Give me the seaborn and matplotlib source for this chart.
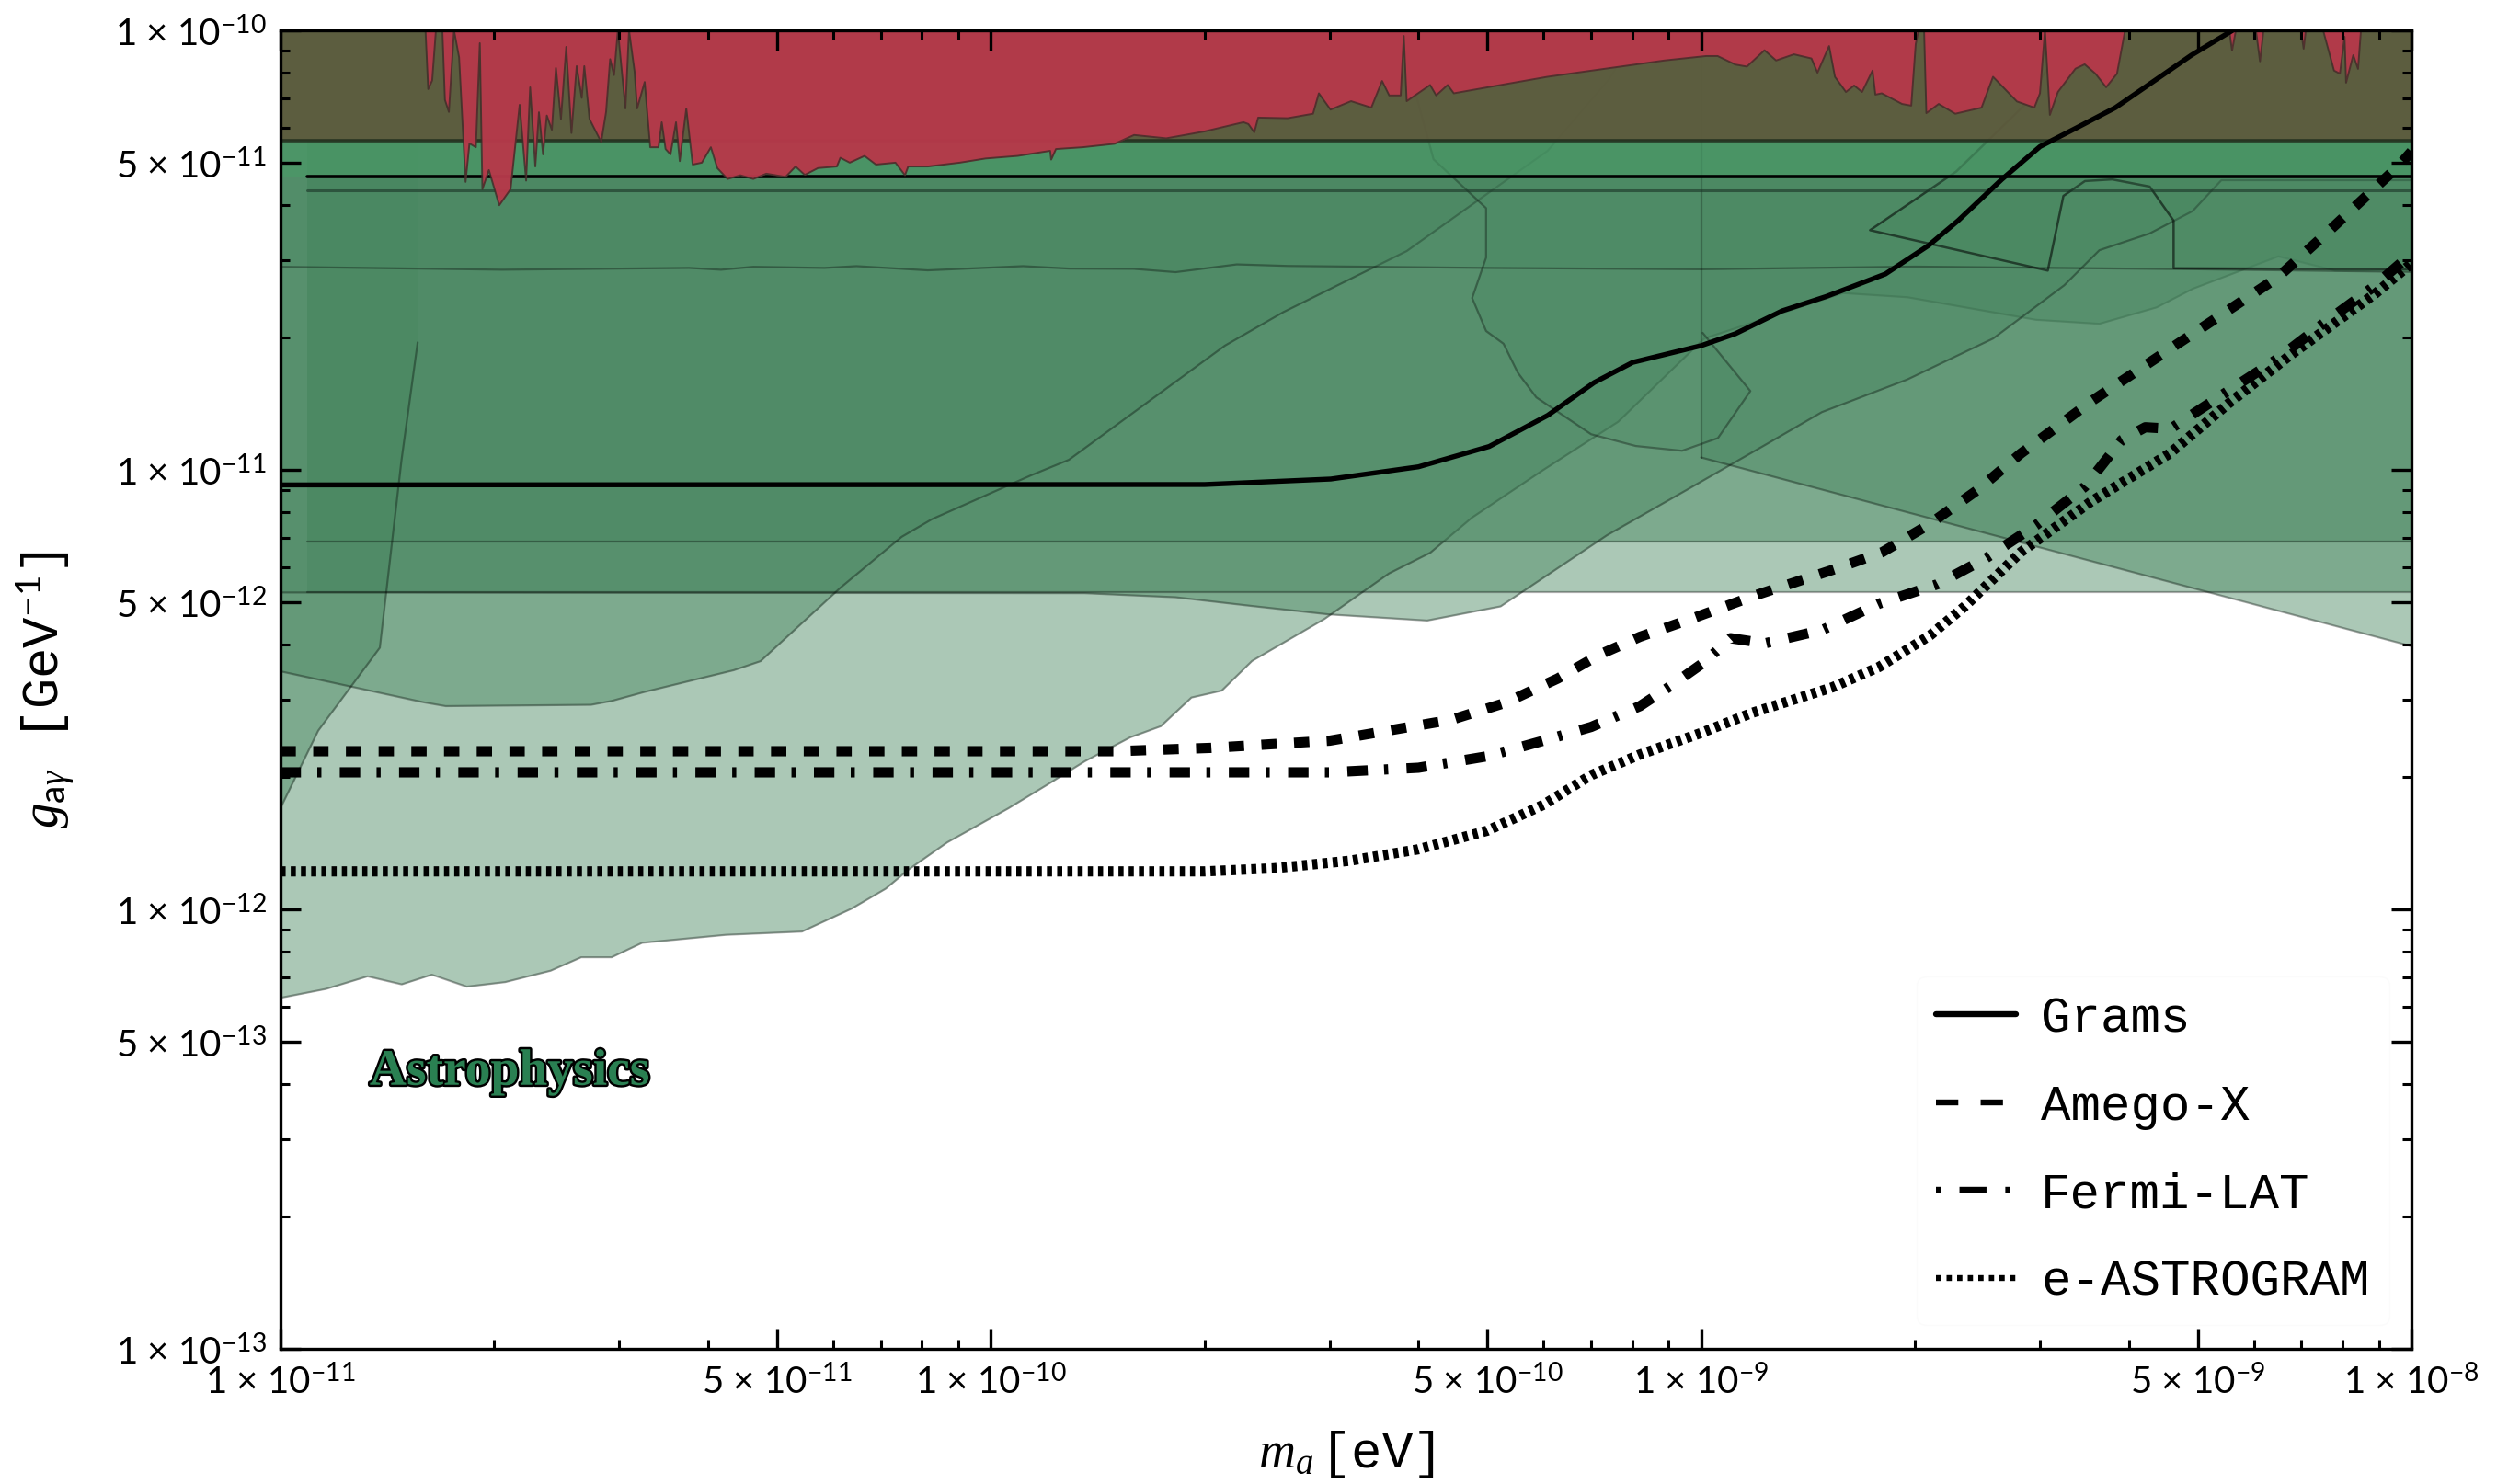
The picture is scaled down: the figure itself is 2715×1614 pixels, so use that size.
import numpy as np
import pandas as pd
import seaborn as sns
import matplotlib
matplotlib.use("Agg")
import matplotlib.pyplot as plt
from matplotlib.lines import Line2D
import matplotlib.patheffects as pe
from matplotlib.ticker import FixedLocator, FixedFormatter, NullFormatter

# ---------------- data ----------------
series_labels = ["Grams", "Amego-X", "Fermi-LAT", "e-ASTROGRAM"]

grams_m = [1.0e-11, 2.0e-10, 3.01e-10, 4.0e-10, 5.03e-10, 6.08e-10, 7.07e-10, 8.01e-10, 1.0e-9, 1.117e-9,
           1.30e-9, 1.50e-9, 1.817e-9, 2.09e-9, 2.30e-9, 2.65e-9, 3.0e-9, 3.37e-9, 3.83e-9, 4.9e-9, 5.6e-9]
grams_g = [9.24e-12, 9.26e-12, 9.53e-12, 1.016e-11, 1.13e-11, 1.33e-11, 1.58e-11, 1.756e-11, 1.917e-11, 2.04e-11,
           2.30e-11, 2.48e-11, 2.79e-11, 3.24e-11, 3.69e-11, 4.58e-11, 5.44e-11, 5.99e-11, 6.67e-11, 8.78e-11, 1.0e-10]

amego_m = [1e-11, 1.5e-10, 2.04e-10, 3.0e-10, 4.45e-10, 5.3e-10, 6.28e-10, 7.2e-10, 8.2e-10, 9.5e-10, 1.2e-9,
           1.55e-9, 1.8e-9, 2.09e-9, 2.45e-9, 2.82e-9, 3.56e-9, 4.81e-9, 6.48e-9, 7.63e-9, 9.6e-9, 1e-8]
amego_g = [2.29e-12, 2.29e-12, 2.33e-12, 2.42e-12, 2.70e-12, 2.95e-12, 3.35e-12, 3.8e-12, 4.17e-12, 4.53e-12, 5.2e-12,
           5.96e-12, 6.5e-12, 7.5e-12, 9.0e-12, 1.09e-11, 1.44e-11, 1.99e-11, 2.74e-11, 3.48e-11, 4.92e-11, 5.3e-11]

fermi_m = [1e-11, 3.0e-10, 4.0e-10, 5.0e-10, 6.0e-10, 7.0e-10, 8.2e-10, 9.1e-10, 1.01e-9, 1.10e-9, 1.23e-9,
           1.48e-9, 1.78e-9, 2.15e-9, 2.52e-9, 2.96e-9, 3.47e-9, 3.91e-9, 4.22e-9, 4.58e-9, 5.41e-9, 6.48e-9,
           7.45e-9, 8.79e-9, 1e-8]
fermi_g = [2.05e-12, 2.05e-12, 2.1e-12, 2.23e-12, 2.42e-12, 2.6e-12, 2.9e-12, 3.24e-12, 3.65e-12, 4.14e-12, 4.03e-12,
           4.32e-12, 4.96e-12, 5.49e-12, 6.30e-12, 7.48e-12, 9.16e-12, 1.17e-11, 1.25e-11, 1.24e-11, 1.48e-11,
           1.79e-11, 2.13e-11, 2.59e-11, 3.1e-11]

astro_m = [1e-11, 2.0e-10, 2.5e-10, 3.2e-10, 4.0e-10, 5.0e-10, 6.0e-10, 7.0e-10, 8.2e-10, 1.0e-9, 1.18e-9,
           1.53e-9, 1.78e-9, 2.1e-9, 2.35e-9, 2.82e-9, 3.54e-9, 4.57e-9, 5.51e-9, 6.74e-9, 8.9e-9, 1e-8]
astro_g = [1.22e-12, 1.22e-12, 1.24e-12, 1.29e-12, 1.37e-12, 1.51e-12, 1.73e-12, 2.02e-12, 2.25e-12, 2.52e-12, 2.8e-12,
           3.2e-12, 3.56e-12, 4.2e-12, 4.89e-12, 6.5e-12, 8.47e-12, 1.09e-11, 1.41e-11, 1.82e-11, 2.52e-11, 2.95e-11]

# excluded regions (lower boundaries; each region extends up to the top of the plot)
light_m = [1.0e-11, 1.159e-11, 1.326e-11, 1.481e-11, 1.633e-11, 1.829e-11, 2.071e-11, 2.40e-11, 2.65e-11,
           2.925e-11, 3.228e-11, 4.235e-11, 5.42e-11, 6.37e-11, 7.11e-11, 7.66e-11, 8.68e-11, 1.058e-10,
           1.198e-10, 1.356e-10, 1.571e-10, 1.735e-10, 1.916e-10, 2.114e-10, 2.332e-10, 2.95e-10, 3.635e-10,
           4.158e-10, 4.755e-10, 5.97e-10, 7.64e-10, 1.01e-9, 1.584e-9, 1.952e-9, 2.958e-9, 3.636e-9, 4.377e-9,
           4.922e-9, 6.496e-9, 7.805e-9, 1.0e-8]
light_g = [6.29e-13, 6.59e-13, 7.04e-13, 6.75e-13, 7.10e-13, 6.67e-13, 6.83e-13, 7.25e-13, 7.78e-13,
           7.78e-13, 8.39e-13, 8.75e-13, 8.90e-13, 1.004e-12, 1.114e-12, 1.232e-12, 1.42e-12, 1.697e-12,
           1.917e-12, 2.172e-12, 2.462e-12, 2.61e-12, 3.033e-12, 3.145e-12, 3.674e-12, 4.58e-12, 5.81e-12,
           6.48e-12, 7.78e-12, 9.95e-12, 1.286e-11, 1.99e-11, 2.525e-11, 2.47e-11, 2.195e-11, 2.149e-11, 2.342e-11,
           2.582e-11, 3.06e-11, 2.84e-11, 2.84e-11]

mid_m = [1.0e-11, 1.588e-11, 1.708e-11, 2.736e-11, 2.927e-11, 3.245e-11, 4.345e-11, 4.74e-11, 6.14e-11,
         7.49e-11, 8.26e-11, 1.138e-10, 1.288e-10, 2.136e-10, 2.58e-10, 3.85e-10, 6.08e-10, 7.41e-10, 8.22e-10]
mid_g = [3.48e-12, 2.96e-12, 2.90e-12, 2.92e-12, 2.98e-12, 3.12e-12, 3.50e-12, 3.67e-12, 5.39e-12,
         7.04e-12, 7.72e-12, 9.71e-12, 1.054e-11, 1.917e-11, 2.284e-11, 3.146e-11, 5.32e-11, 7.72e-11, 1.0e-10]

steep_m = [1.0e-11, 1.13e-11, 1.38e-11, 1.48e-11, 1.56e-11]
steep_g = [1.70e-12, 2.55e-12, 3.94e-12, 1.05e-11, 1.95e-11]

rise_m = [1.0e-11, 1.356e-10, 1.82e-10, 2.332e-10, 2.987e-10, 4.114e-10, 5.22e-10, 7.37e-10, 9.53e-10,
          1.229e-9, 1.479e-9, 1.952e-9, 2.577e-9, 3.245e-9, 3.636e-9, 4.28e-9, 4.92e-9, 5.40e-9, 1e-8]
rise_g = [5.26e-12, 5.24e-12, 5.13e-12, 4.90e-12, 4.69e-12, 4.54e-12, 4.89e-12, 7.10e-12, 8.99e-12,
          1.138e-11, 1.353e-11, 1.606e-11, 1.99e-11, 2.63e-11, 3.16e-11, 3.45e-11, 3.88e-11, 4.56e-11, 4.56e-11]

flat_m = [1.09e-11, 1e-8]
flat1_g = [5.27e-12, 5.27e-12]
flat2_g = [6.88e-12, 6.88e-12]
flat3_g = [4.33e-11, 4.33e-11]
flat4_g = [4.65e-11, 4.65e-11]
band_m = [1e-11, 1e-8]
band_g = [5.62e-11, 5.62e-11]

wavy_m = [1.0e-11, 1.56e-11, 2.05e-11, 3.76e-11, 4.17e-11, 4.63e-11, 5.83e-11, 6.47e-11, 8.15e-11, 1.11e-10,
          1.29e-10, 1.59e-10, 1.82e-10, 2.22e-10, 2.62e-10, 5e-10, 1e-9, 2e-9, 5e-9, 1e-8]
wavy_g = [2.897e-11, 2.87e-11, 2.853e-11, 2.88e-11, 2.853e-11, 2.897e-11, 2.88e-11, 2.907e-11, 2.844e-11,
          2.907e-11, 2.87e-11, 2.866e-11, 2.817e-11, 2.934e-11, 2.91e-11, 2.88e-11, 2.86e-11, 2.9e-11, 2.86e-11, 2.82e-11]

blob_m = [3.77e-10, 3.99e-10, 4.20e-10, 4.98e-10, 4.98e-10, 4.76e-10, 4.98e-10, 5.27e-10, 5.52e-10, 5.86e-10,
          7.00e-10, 8.09e-10, 9.40e-10, 1.056e-9, 1.173e-9, 1.005e-9, 1.005e-9]
blob_g = [1.0e-10, 6.90e-11, 5.09e-11, 3.94e-11, 3.04e-11, 2.46e-11, 2.07e-11, 1.936e-11, 1.663e-11, 1.462e-11,
          1.205e-11, 1.133e-11, 1.105e-11, 1.181e-11, 1.511e-11, 2.05e-11, 1.0e-10]

diag_m = [1.0e-9, 1.0e-9, 1.0e-8]
diag_g = [1.0e-10, 1.067e-11, 3.97e-12]

vee_m = [3.312e-9, 2.866e-9, 2.285e-9, 1.729e-9, 3.076e-9, 3.236e-9, 3.47e-9, 3.79e-9, 4.28e-9, 4.625e-9,
         4.625e-9, 1e-8, 1e-8]
vee_g = [1e-10, 6.81e-11, 4.77e-11, 3.51e-11, 2.84e-11, 4.20e-11, 4.54e-11, 4.58e-11, 4.41e-11, 3.69e-11,
         2.875e-11, 2.86e-11, 1e-10]

red_m = [1.60e-11, 1.614e-11, 1.635e-11, 1.655e-11, 1.69e-11, 1.704e-11, 1.726e-11, 1.755e-11, 1.784e-11, 1.822e-11,
         1.845e-11, 1.884e-11, 1.908e-11, 1.924e-11, 1.965e-11, 2.032e-11, 2.108e-11, 2.171e-11, 2.217e-11, 2.246e-11,
         2.284e-11, 2.311e-11, 2.342e-11, 2.371e-11, 2.41e-11, 2.442e-11, 2.482e-11, 2.525e-11, 2.568e-11, 2.612e-11,
         2.655e-11, 2.677e-11, 2.723e-11, 2.828e-11, 2.873e-11, 2.911e-11, 2.948e-11, 2.985e-11, 3.059e-11, 3.095e-11,
         3.151e-11, 3.177e-11, 3.256e-11, 3.315e-11, 3.405e-11, 3.441e-11, 3.484e-11, 3.540e-11, 3.604e-11, 3.648e-11,
         3.726e-11, 3.804e-11, 3.919e-11, 4.035e-11, 4.12e-11, 4.26e-11, 4.44e-11, 4.63e-11, 4.83e-11, 5.14e-11,
         5.31e-11, 5.47e-11, 5.71e-11, 6.07e-11, 6.14e-11, 6.33e-11, 6.64e-11, 6.89e-11, 7.34e-11, 7.57e-11,
         7.65e-11, 8.15e-11, 9.04e-11, 9.83e-11, 1.091e-10, 1.212e-10, 1.216e-10, 1.235e-10, 1.346e-10, 1.494e-10,
         1.591e-10, 1.766e-10, 2.001e-10, 2.268e-10, 2.305e-10, 2.349e-10, 2.379e-10, 2.617e-10, 2.842e-10, 2.896e-10,
         3.008e-10, 3.215e-10, 3.433e-10, 3.555e-10, 3.638e-10, 3.776e-10, 3.814e-10, 3.850e-10, 4.154e-10, 4.236e-10,
         4.397e-10, 4.485e-10, 5.028e-10, 6.077e-10, 7.34e-10, 8.88e-10, 1.016e-9, 1.055e-9, 1.117e-9, 1.160e-9,
         1.228e-9, 1.275e-9, 1.351e-9, 1.430e-9, 1.458e-9, 1.514e-9, 1.543e-9, 1.599e-9, 1.642e-9, 1.685e-9,
         1.743e-9, 1.759e-9, 1.796e-9, 1.918e-9, 1.976e-9, 2.005e-9, 2.023e-9, 2.06e-9, 2.075e-9, 2.160e-9,
         2.279e-9, 2.482e-9, 2.576e-9, 2.678e-9, 2.783e-9, 2.945e-9, 2.999e-9, 3.048e-9, 3.097e-9, 3.179e-9,
         3.365e-9, 3.467e-9, 3.590e-9, 3.717e-9, 3.850e-9, 3.952e-9, 5.54e-9, 5.59e-9, 5.66e-9, 6.04e-9,
         6.12e-9, 6.19e-9, 6.99e-9, 7.05e-9, 7.10e-9, 7.51e-9, 7.78e-9, 7.93e-9, 8.05e-9, 8.09e-9,
         8.28e-9, 8.41e-9, 8.49e-9]
red_g = [1e-10, 7.35e-11, 7.69e-11, 1e-10, 1e-10, 6.95e-11, 6.52e-11, 1e-10, 8.68e-11, 4.52e-11,
         5.53e-11, 5.42e-11, 9.35e-11, 4.35e-11, 4.81e-11, 4.00e-11, 4.35e-11, 6.77e-11, 4.55e-11, 7.42e-11,
         4.90e-11, 6.51e-11, 5.22e-11, 6.40e-11, 5.94e-11, 8.21e-11, 6.28e-11, 9.17e-11, 5.84e-11, 8.29e-11,
         7.02e-11, 8.29e-11, 6.28e-11, 5.57e-11, 6.52e-11, 8.60e-11, 7.91e-11, 1e-10, 6.64e-11, 1e-10,
         8.06e-11, 6.64e-11, 7.63e-11, 5.42e-11, 5.42e-11, 6.18e-11, 5.37e-11, 5.22e-11, 6.18e-11, 5.04e-11,
         6.64e-11, 4.95e-11, 5.00e-11, 5.42e-11, 4.86e-11, 4.59e-11, 4.68e-11, 4.59e-11, 4.72e-11, 4.64e-11,
         4.90e-11, 4.69e-11, 4.86e-11, 4.90e-11, 5.13e-11, 5.00e-11, 5.18e-11, 4.95e-11, 5.00e-11, 4.68e-11,
         4.90e-11, 4.90e-11, 5.00e-11, 5.11e-11, 5.18e-11, 5.32e-11, 5.08e-11, 5.37e-11, 5.42e-11, 5.52e-11,
         5.78e-11, 5.68e-11, 5.89e-11, 6.18e-11, 6.12e-11, 5.86e-11, 6.33e-11, 6.31e-11, 6.46e-11, 7.19e-11,
         6.60e-11, 6.90e-11, 6.67e-11, 7.67e-11, 7.11e-11, 7.11e-11, 9.71e-11, 6.90e-11, 7.51e-11, 7.11e-11,
         7.51e-11, 7.19e-11, 7.43e-11, 7.84e-11, 8.18e-11, 8.54e-11, 8.74e-11, 8.74e-11, 8.36e-11, 8.27e-11,
         9.01e-11, 8.54e-11, 8.82e-11, 8.63e-11, 8.01e-11, 9.21e-11, 7.84e-11, 7.24e-11, 7.49e-11, 7.24e-11,
         8.10e-11, 7.14e-11, 7.19e-11, 6.80e-11, 6.74e-11, 9.31e-11, 1e-10, 1e-10, 6.48e-11, 6.80e-11,
         6.46e-11, 6.67e-11, 7.84e-11, 7.35e-11, 6.89e-11, 6.67e-11, 7.19e-11, 1e-10, 6.42e-11, 7.24e-11,
         8.18e-11, 8.37e-11, 7.97e-11, 7.42e-11, 7.97e-11, 1e-10, 1e-10, 8.99e-11, 1e-10, 1e-10,
         8.50e-11, 1e-10, 1e-10, 9.08e-11, 1e-10, 1e-10, 8.10e-11, 7.97e-11, 9.67e-11, 7.60e-11,
         8.78e-11, 8.17e-11, 1e-10]

x_ticks = [1e-11, 5e-11, 1e-10, 5e-10, 1e-9, 5e-9, 1e-8]
x_tick_labels = ["1 × 10$^{-11}$", "5 × 10$^{-11}$", "1 × 10$^{-10}$", "5 × 10$^{-10}$",
                 "1 × 10$^{-9}$", "5 × 10$^{-9}$", "1 × 10$^{-8}$"]
y_ticks = [1e-13, 5e-13, 1e-12, 5e-12, 1e-11, 5e-11, 1e-10]
y_tick_labels = ["1 × 10$^{-13}$", "5 × 10$^{-13}$", "1 × 10$^{-12}$", "5 × 10$^{-12}$",
                 "1 × 10$^{-11}$", "5 × 10$^{-11}$", "1 × 10$^{-10}$"]
region_label = "Astrophysics"
region_label_pos = (2.10e-11, 3.99e-13)

# ---------------- style ----------------
sns.set_theme(style="ticks")
plt.rcParams["font.family"] = ["Liberation Mono", "DejaVu Sans"]
plt.rcParams["mathtext.fontset"] = "custom"
plt.rcParams["mathtext.rm"] = "Lato"
plt.rcParams["mathtext.it"] = "Liberation Serif:italic"
plt.rcParams["mathtext.bf"] = "Lato:bold"
plt.rcParams["text.color"] = "black"
plt.rcParams["axes.labelcolor"] = "black"
plt.rcParams["xtick.labelcolor"] = "black"
plt.rcParams["ytick.labelcolor"] = "black"

W, H = 2715, 1614
fig = plt.figure(figsize=(W / 100, H / 100), dpi=100)
fig.patch.set_facecolor("white")
ax = fig.add_axes([305 / W, 1 - 1467 / H, 2317 / W, 1434 / H])
ax.set_facecolor("white")
ax.set_xscale("log")
ax.set_yscale("log")
TOP = 1e-10

GREEN = "#488760"
A = 0.46
EDGE = (0.0, 0.0, 0.0, 0.33)


def region(xs, lo, alpha=A, z=1.0, edge=EDGE, elw=1.6):
    ax.fill_between(xs, lo, TOP, color=GREEN, alpha=alpha, lw=0, zorder=z)
    ax.plot(xs, lo, color=edge, lw=elw, zorder=z + 0.05)


region(light_m, light_g, z=1.00)
region(mid_m, mid_g, z=1.01)
region(steep_m, steep_g, z=1.02)
region(rise_m, rise_g, z=1.03)
region(flat_m, flat1_g, z=1.04)
region(flat_m, flat2_g, z=1.05)
region(wavy_m, wavy_g, alpha=0.3, z=1.06)
region(diag_m[1:], diag_g[1:], z=1.07)
ax.plot(diag_m[:2], diag_g[:2], color=EDGE, lw=1.6, zorder=1.08)
ax.fill(blob_m, blob_g, color=GREEN, alpha=0.3, lw=0, zorder=1.09)
ax.plot(blob_m[:-1], blob_g[:-1], color=EDGE, lw=1.6, zorder=1.1)
ax.fill(vee_m, vee_g, color=GREEN, alpha=0.25, lw=0, zorder=1.11)
ax.plot(vee_m[:-1], vee_g[:-1], color=(0, 0, 0, 0.55), lw=1.8, zorder=1.12)
region(flat_m, flat3_g, alpha=0.2, z=1.13, edge=(0.1, 0.2, 0.15, 0.6), elw=2.2)

# bright band with black lower edge
ax.fill_between(band_m, [flat4_g[0]] * 2, TOP, color="#499c67", alpha=0.6, lw=0, zorder=1.2)
ax.plot(flat_m, flat4_g, color="black", lw=2.6, zorder=1.21)
# dark olive band
ax.fill_between(band_m, band_g, TOP, color="#605439", alpha=0.85, lw=0, zorder=1.3)
ax.plot(band_m, band_g, color="#23301f", lw=2.6, alpha=0.9, zorder=1.31)
# red region
ax.fill_between(red_m, red_g, TOP, color="#b5394a", alpha=0.97, lw=0, zorder=1.4)
ax.plot(red_m, red_g, color="#3e2c28", lw=1.4, alpha=0.8, zorder=1.41)

# ---------------- sensitivity lines (seaborn) ----------------
line_specs = [
    (grams_m, grams_g, 3.9, "-"),
    (amego_m, amego_g, 8.0, (0, (1.5, 1.7))),
    (fermi_m, fermi_g, 8.0, (0, (2.0, 1.6, 0.4, 1.8))),
    (astro_m, astro_g, 8.0, (0, (0.5, 0.5))),
]
for (mm, gg, lw, ls), lab in zip(line_specs, series_labels):
    df = pd.DataFrame({"m": mm, "g": gg})
    n0 = len(ax.lines)
    sns.lineplot(data=df, x="m", y="g", ax=ax, color="black", estimator=None, sort=False,
                 legend=False, zorder=3)
    ln = ax.lines[n0]
    ln.set_linewidth(lw)
    ln.set_linestyle(ls)
    ln.set_dash_capstyle("butt")
    ln.set_solid_capstyle("butt")

ax.set_xlim(1e-11, 1e-8)
ax.set_ylim(1e-13, 1e-10)

# ---------------- ticks ----------------
minors_x = [k * 10.0 ** e for e in (-11, -10, -9) for k in (2, 3, 4, 6, 7, 8, 9)]
minors_y = [k * 10.0 ** e for e in (-13, -12, -11) for k in (2, 3, 4, 6, 7, 8, 9)]
ax.xaxis.set_major_locator(FixedLocator(x_ticks))
ax.xaxis.set_major_formatter(FixedFormatter(x_tick_labels))
ax.xaxis.set_minor_locator(FixedLocator(minors_x))
ax.xaxis.set_minor_formatter(NullFormatter())
ax.yaxis.set_major_locator(FixedLocator(y_ticks))
ax.yaxis.set_major_formatter(FixedFormatter(y_tick_labels))
ax.yaxis.set_minor_locator(FixedLocator(minors_y))
ax.yaxis.set_minor_formatter(NullFormatter())
ax.tick_params(which="both", direction="in", top=True, right=True, color="black")
ax.tick_params(which="major", length=15.5, width=2.4, labelsize=29, labelfontfamily="Lato",
               labelcolor="black")
ax.tick_params(which="minor", length=7.2, width=2.2)
ax.tick_params(axis="x", which="major", pad=12)
ax.tick_params(axis="y", which="major", pad=11)
for lab in ax.get_xticklabels() + ax.get_yticklabels():
    lab.set_fontweight("normal")
    lab.set_color("black")
for s in ax.spines.values():
    s.set_linewidth(2.4)
    s.set_color("black")
    s.set_zorder(30)
ax.xaxis.set_zorder(29)
ax.yaxis.set_zorder(29)

ax.set_xlabel("$m_a\\,$[eV]", fontsize=40, color="black", family=["Liberation Mono", "DejaVu Sans"])
ax.set_ylabel("$g_{\\mathrm{a}\\gamma}$ [GeV$^{-1}$]", fontsize=40, color="black",
              family=["Liberation Mono", "DejaVu Sans"])
ax.xaxis.set_label_coords(0.5, -0.061)
ax.yaxis.set_label_coords(-0.096, 0.5)

# ---------------- annotation ----------------
ax.text(region_label_pos[0], region_label_pos[1], region_label, fontsize=40, fontweight="bold",
        family="Liberation Serif", color="#2a8052", ha="center", va="baseline", zorder=12,
        path_effects=[pe.withStroke(linewidth=3.5, foreground="black")])

# ---------------- legend ----------------
handles = [
    Line2D([], [], color="black", lw=4.6, ls="-"),
    Line2D([], [], color="black", lw=4.6, ls=(0, (3.8, 3.8))),
    Line2D([], [], color="black", lw=4.6, ls=(0, (0.8, 3.2, 4.6, 3.2))),
    Line2D([], [], color="black", lw=4.6, ls=(0, (0.9, 0.9))),
]
leg = ax.legend(handles, series_labels, loc="center left", bbox_to_anchor=(0.756, 0.1503),
                frameon=True, fancybox=True, handlelength=1.6, handletextpad=0.5,
                labelspacing=0.84, borderpad=0.4, prop={"family": "Liberation Mono", "size": 39})
leg.get_frame().set_edgecolor("#fafafa")
leg.get_frame().set_facecolor("white")
leg.get_frame().set_linewidth(1.0)
for t in leg.get_texts():
    t.set_color("black")
leg.set_zorder(20)

fig.savefig("out.png", dpi=100, facecolor="white")
